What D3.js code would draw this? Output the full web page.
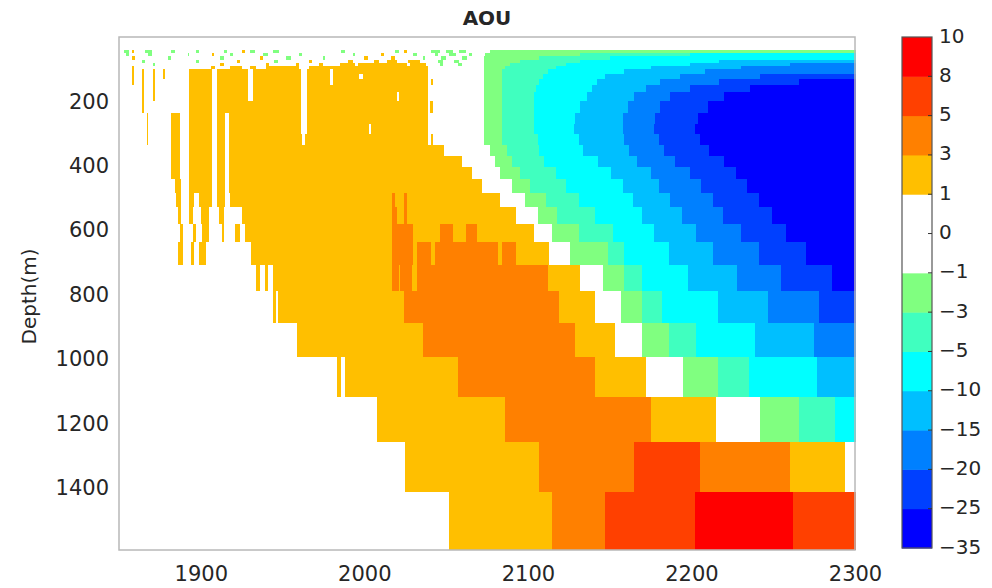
<!DOCTYPE html>
<html>
<head>
<meta charset="utf-8">
<script src="https://cdn.jsdelivr.net/npm/d3@7"></script>
<style>
  body { margin: 0; background: #fff; }
  text { font-family: "DejaVu Sans", sans-serif; fill: #262626; }
</style>
</head>
<body>
<div id="chart"></div>
<script>
// layer edges (m), one row of runs per layer
const depthEdges = [40, 50, 60, 70, 80, 90, 100, 115, 130, 150, 170, 200, 235, 270, 300, 335, 370, 405,
  442, 483, 529, 582, 638, 707, 790, 887, 993, 1117, 1257, 1412, 1592];

// colour levels of the colorbar, bottom to top
const aouLevels = [-35, -25, -20, -15, -10, -5, -3, -1, 0, 1, 3, 5, 8, 10];
const aouColors = ["#0000ff", "#0040ff", "#0080ff", "#00bfff", "#00ffff", "#40ffbf", "#80ff80",
  "#ffffff", "#ffffff", "#ffbf00", "#ff8000", "#ff4000", "#ff0000"];

const yearTicks = [1900, 2000, 2100, 2200, 2300];
const depthTicks = [200, 400, 600, 800, 1000, 1200, 1400];

// each row: [start year, AOU] pairs, a value holds until the next start
const aouRuns = [
  [[1850,0],[1853,-2],[1856,0],[1858,2],[1859,0],[1866,-2],[1870,0],[1882,-2],[1884,0],[1897,-2],[1899,0],[1914,-2],[1916,0],[1925,2],[1927,0],[1930,-2],[1933,0],[1944,-2],[1948,0],[1986,-2],[1988,0],[2019,-2],[2021,0],[2024,2],[2026,0],[2041,-2],[2046,0],[2050,-2],[2054,0],[2058,-2],[2062,0],[2077,-2]],
  [[1850,0],[1854,-2],[1856,0],[1868,-2],[1870,0],[1892,-2],[1893,0],[1907,2],[1908,0],[1918,-2],[1920,0],[1938,-2],[1941,0],[1960,-2],[1962,0],[1993,-2],[1994,0],[2010,2],[2012,0],[2030,-2],[2032,0],[2043,-2],[2045,0],[2052,-2],[2056,0],[2064,-2],[2066,0],[2074,-2],[2132,-4],[2199,-7.5]],
  [[1850,0],[1858,2],[1860,0],[1880,-2],[1882,0],[1912,-2],[1914,0],[1936,2],[1938,0],[1952,-2],[1955,0],[1975,-2],[1976,0],[2000,2],[2002,0],[2016,2],[2019,0],[2036,-2],[2037,0],[2047,-2],[2050,0],[2060,-2],[2063,0],[2073,-2],[2107,-4],[2150,-7.5]],
  [[1850,0],[1864,-2],[1866,0],[1897,-2],[1899,0],[1922,2],[1924,0],[1945,-2],[1947,0],[1966,2],[1968,0],[1990,2],[1993,0],[2006,2],[2009,0],[2014,2],[2020,0],[2027,2],[2034,0],[2045,-2],[2048,0],[2055,-2],[2058,0],[2073,-2],[2095,-4],[2132,-7.5],[2217,-12.5]],
  [[1850,0],[1871,-2],[1872,0],[1912,2],[1914,0],[1940,2],[1942,0],[1958,2],[1960,0],[1972,2],[1975,0],[1985,2],[1994,0],[1996,2],[2026,0],[2028,2],[2038,0],[2046,-2],[2048,0],[2057,-2],[2060,0],[2073,-2],[2089,-4],[2123,-7.5],[2199,-12.5],[2260,-17.5]],
  [[1850,0],[1858,2],[1859,0],[1906,2],[1909,0],[1918,2],[1925,0],[1930,2],[1934,0],[1940,2],[1960,0],[1966,2],[2039,0],[2073,-2],[2086,-4],[2117,-7.5],[2175,-12.5],[2230,-17.5]],
  [[1850,0],[1858,2],[1859,0],[1864,2],[1865,0],[1871,2],[1872,0],[1877,2],[1878,0],[1893,2],[1907,0],[1910,2],[1929,0],[1932,2],[1961,0],[1965,2],[1979,0],[1981,2],[2039,0],[2073,-2],[2084,-4],[2112,-7.5],[2159,-12.5],[2208,-17.5]],
  [[1850,0],[1858,2],[1859,0],[1864,2],[1865,0],[1871,2],[1872,0],[1877,2],[1878,0],[1893,2],[1907,0],[1910,2],[1929,0],[1932,2],[1961,0],[1965,2],[1979,0],[1981,2],[1997,0],[1999,2],[2039,0],[2073,-2],[2084,-4],[2109,-7.5],[2147,-12.5],[2193,-17.5],[2242,-22.5]],
  [[1850,0],[1858,2],[1859,0],[1864,2],[1865,0],[1871,2],[1872,0],[1893,2],[1907,0],[1910,2],[1929,0],[1932,2],[1961,0],[1965,2],[1979,0],[1981,2],[2039,0],[2041,2],[2042,0],[2073,-2],[2084,-4],[2107,-7.5],[2142,-12.5],[2181,-17.5],[2217,-22.5],[2266,-30]],
  [[1850,0],[1864,2],[1865,0],[1871,2],[1872,0],[1893,2],[1907,0],[1910,2],[1929,0],[1932,2],[1961,0],[1965,2],[2039,0],[2073,-2],[2084,-4],[2105,-7.5],[2139,-12.5],[2172,-17.5],[2199,-22.5],[2236,-30]],
  [[1850,0],[1864,2],[1865,0],[1871,2],[1872,0],[1893,2],[1907,0],[1910,2],[1929,0],[1932,2],[1961,0],[1965,2],[2020,0],[2021,2],[2039,0],[2073,-2],[2084,-4],[2104,-7.5],[2136,-12.5],[2165,-17.5],[2187,-22.5],[2220,-30]],
  [[1850,0],[1864,2],[1865,0],[1893,2],[1907,0],[1910,2],[1961,0],[1965,2],[2039,0],[2040,2],[2042,0],[2073,-2],[2084,-4],[2104,-7.5],[2132,-12.5],[2161,-17.5],[2181,-22.5],[2210,-30]],
  [[1850,0],[1867,2],[1868,0],[1882,2],[1887,0],[1893,2],[1907,0],[1910,2],[1915,0],[1917,2],[1961,0],[1965,2],[2039,0],[2073,-2],[2084,-4],[2104,-7.5],[2129,-12.5],[2158,-17.5],[2178,-22.5],[2204,-30]],
  [[1850,0],[1867,2],[1868,0],[1882,2],[1887,0],[1893,2],[1907,0],[1910,2],[1915,0],[1917,2],[1961,0],[1965,2],[2003,0],[2004,2],[2039,0],[2073,-2],[2084,-4],[2104,-7.5],[2128,-12.5],[2158,-17.5],[2177,-22.5],[2202,-30]],
  [[1850,0],[1867,2],[1868,0],[1882,2],[1887,0],[1893,2],[1907,0],[1910,2],[1915,0],[1917,2],[1962,0],[1964,2],[2039,0],[2041,2],[2042,0],[2073,-2],[2084,-4],[2106,-7.5],[2131,-12.5],[2159,-17.5],[2180,-22.5],[2205,-30]],
  [[1850,0],[1882,2],[1887,0],[1893,2],[1907,0],[1910,2],[1915,0],[1917,2],[2049,0],[2077,-2],[2087,-4],[2107,-7.5],[2134,-12.5],[2162,-17.5],[2183,-22.5],[2211,-30]],
  [[1850,0],[1882,2],[1887,0],[1893,2],[1907,0],[1910,2],[1915,0],[1917,2],[2060,0],[2080,-2],[2090,-4],[2110,-7.5],[2143,-12.5],[2167,-17.5],[2190,-22.5],[2220,-30]],
  [[1850,0],[1882,2],[1887,0],[1893,2],[1907,0],[1910,2],[1915,0],[1917,2],[2066,0],[2083,-2],[2095,-4],[2117,-7.5],[2151,-12.5],[2175,-17.5],[2199,-22.5],[2227,-30]],
  [[1850,0],[1884,2],[1888,0],[1893,2],[1907,0],[1910,2],[1915,0],[1917,2],[2072,0],[2090,-2],[2101,-4],[2123,-7.5],[2158,-12.5],[2180,-17.5],[2206,-22.5],[2234,-30]],
  [[1850,0],[1885,2],[1888,0],[1893,2],[1896,0],[1899,2],[1907,0],[1910,2],[1915,0],[1918,2],[2017,4],[2019,2],[2024,4],[2026,2],[2083,0],[2098,-2],[2111,-4],[2131,-7.5],[2164,-12.5],[2187,-17.5],[2213,-22.5],[2241,-30]],
  [[1850,0],[1886,2],[1888,0],[1893,2],[1895,0],[1900,2],[1905,0],[1911,2],[1914,0],[1925,2],[2017,4],[2020,2],[2024,4],[2026,2],[2093,0],[2106,-2],[2118,-4],[2141,-7.5],[2170,-12.5],[2194,-17.5],[2219,-22.5],[2249,-30]],
  [[1850,0],[1887,2],[1889,0],[1895,2],[1897,0],[1901,2],[1905,0],[1913,2],[1914,0],[1921,2],[1924,0],[1927,2],[2017,4],[2030,2],[2046,4],[2054,2],[2062,4],[2069,2],[2104,0],[2115,-2],[2131,-4],[2152,-7.5],[2177,-12.5],[2203,-17.5],[2230,-22.5],[2258,-30]],
  [[1850,0],[1886,2],[1889,0],[1894,2],[1896,0],[1899,2],[1903,0],[1931,2],[2017,4],[2030,2],[2032,4],[2041,2],[2043,4],[2082,2],[2084,4],[2093,2],[2113,0],[2126,-2],[2149,-4],[2159,-7.5],[2186,-12.5],[2213,-17.5],[2241,-22.5],[2270,-30]],
  [[1850,0],[1934,2],[1936,0],[1939,2],[1941,0],[1944,2],[2017,4],[2021,2],[2022,4],[2029,2],[2032,4],[2112,2],[2132,0],[2146,-2],[2159,-4],[2170,-7.5],[2198,-12.5],[2228,-17.5],[2255,-22.5],[2286,-30]],
  [[1850,0],[1944,2],[1946,0],[1947,2],[2024,4],[2119,2],[2141,0],[2157,-2],[2170,-4],[2182,-7.5],[2216,-12.5],[2247,-17.5],[2278,-22.5]],
  [[1850,0],[1959,2],[2036,4],[2129,2],[2153,0],[2170,-2],[2186,-4],[2203,-7.5],[2239,-12.5],[2275,-17.5]],
  [[1850,0],[1983,2],[1986,0],[1988,2],[2057,4],[2141,2],[2172,0],[2195,-2],[2216,-4],[2235,-7.5],[2277,-12.5]],
  [[1850,0],[2008,2],[2086,4],[2175,2],[2215,0],[2242,-2],[2266,-4],[2288,-7.5]],
  [[1850,0],[2025,2],[2107,4],[2165,6.5],[2205,4],[2260,2],[2294,0]],
  [[1850,0],[2052,2],[2115,4],[2147,6.5],[2202,9],[2262,6.5]]
];

const width = 992;
const height = 588;
const plotLeft = 119, plotRight = 855, plotTop = 37, plotBottom = 550;
const endYear = 2300;

const svg = d3.select("#chart").append("svg")
  .attr("width", width)
  .attr("height", height);

const x = d3.scaleLinear().domain([1850, endYear]).range([plotLeft, plotRight]);
const y = d3.scaleLinear().domain([0, 1593]).range([plotTop, plotBottom]);
const color = d3.scaleThreshold().domain(aouLevels.slice(1, -1)).range(aouColors);

// flatten runs into cells
const cells = [];
aouRuns.forEach((row, i) => {
  row.forEach((run, j) => {
    const next = j < row.length - 1 ? row[j + 1][0] : endYear;
    cells.push({ y0: run[0], y1: next, d0: depthEdges[i], d1: depthEdges[i + 1], v: run[1] });
  });
});

svg.append("g")
  .attr("shape-rendering", "crispEdges")
  .selectAll("rect")
  .data(cells)
  .join("rect")
  .attr("x", d => x(d.y0))
  .attr("y", d => y(d.d0))
  .attr("width", d => x(d.y1) - x(d.y0) + 0.6)
  .attr("height", d => y(d.d1) - y(d.d0) + 0.6)
  .attr("fill", d => color(d.v));

// frame
svg.append("rect")
  .attr("x", plotLeft)
  .attr("y", plotTop)
  .attr("width", plotRight - plotLeft)
  .attr("height", plotBottom - plotTop)
  .attr("fill", "none")
  .attr("stroke", "#b8b8b8")
  .attr("stroke-width", 1.5);

// axes
const xAxis = svg.append("g")
  .attr("transform", `translate(0,${plotBottom})`)
  .call(d3.axisBottom(x).tickValues(yearTicks).tickFormat(d3.format("d")).tickSize(0).tickPadding(16));
xAxis.select(".domain").remove();
xAxis.selectAll("text").attr("font-size", 21).attr("fill", "#262626");

const yAxis = svg.append("g")
  .attr("transform", `translate(${plotLeft},0)`)
  .call(d3.axisLeft(y).tickValues(depthTicks).tickFormat(d3.format("d")).tickSize(0).tickPadding(10));
yAxis.select(".domain").remove();
yAxis.selectAll("text").attr("font-size", 21).attr("fill", "#262626");

svg.append("text")
  .attr("transform", `translate(30,${(plotTop + plotBottom) / 2 + 3}) rotate(-90)`)
  .attr("text-anchor", "middle")
  .attr("dominant-baseline", "middle")
  .attr("font-size", 20)
  .text("Depth(m)");

svg.append("text")
  .attr("x", (plotLeft + plotRight) / 2)
  .attr("y", 25)
  .attr("text-anchor", "middle")
  .attr("font-size", 20)
  .attr("font-weight", "bold")
  .text("AOU");

// colorbar
const cbLeft = 902, cbWidth = 30;
const cb = d3.scaleLinear().domain([0, aouColors.length]).range([548, 37]);
const cbGroup = svg.append("g");
cbGroup.selectAll("rect")
  .data(aouColors)
  .join("rect")
  .attr("x", cbLeft)
  .attr("y", (d, i) => cb(i + 1))
  .attr("width", cbWidth)
  .attr("height", (d, i) => cb(i) - cb(i + 1) + 0.5)
  .attr("fill", d => d);
cbGroup.append("rect")
  .attr("x", cbLeft)
  .attr("y", cb(aouColors.length))
  .attr("width", cbWidth)
  .attr("height", cb(0) - cb(aouColors.length))
  .attr("fill", "none")
  .attr("stroke", "#555")
  .attr("stroke-width", 1.2);
cbGroup.selectAll("line.tick")
  .data(aouLevels.slice(1, -1))
  .join("line")
  .attr("class", "tick")
  .attr("x1", cbLeft + cbWidth - 4)
  .attr("x2", cbLeft + cbWidth)
  .attr("y1", (d, i) => cb(i + 1))
  .attr("y2", (d, i) => cb(i + 1))
  .attr("stroke", "#333");
cbGroup.selectAll("text")
  .data(aouLevels)
  .join("text")
  .attr("x", cbLeft + cbWidth + 7)
  .attr("y", (d, i) => cb(i))
  .attr("dominant-baseline", "middle")
  .attr("font-size", 20)
  .text(d => d < 0 ? "\u2212" + Math.abs(d) : d);
</script>
</body>
</html>
